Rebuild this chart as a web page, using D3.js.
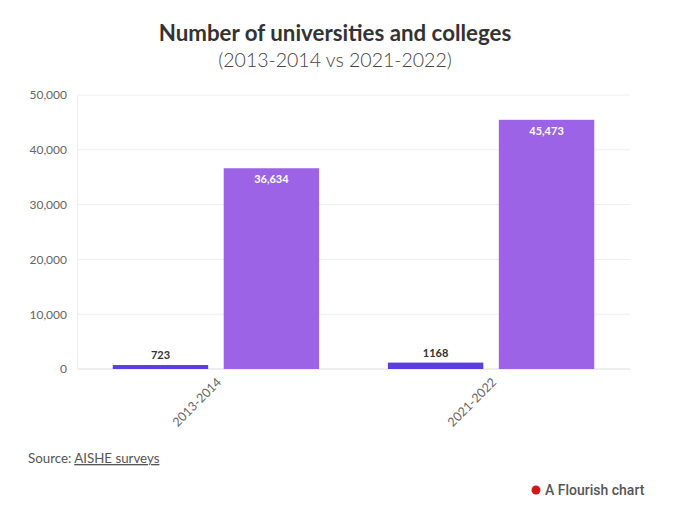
<!DOCTYPE html>
<html><head><meta charset="utf-8">
<script src="https://cdn.jsdelivr.net/npm/d3@7"></script>
<style>
body{margin:0;background:#fff;}
svg{display:block;}
</style></head>
<body>
<svg id="chart" width="680" height="518"></svg>
<script>
const categories = ["2013-2014", "2021-2022"];
const seriesNames = ["Universities", "Colleges"];
const universities = [723, 1168];
const colleges = [36634, 45473];
const yTicks = [0, 10000, 20000, 30000, 40000, 50000];
const universityLabels = ["723", "1168"];

const svg = d3.select("#chart");
const font = "Lato, 'Source Sans Pro', sans-serif";
const colors = ["#5b3fdc", "#9d63e6"];

const x0 = d3.scaleBand().domain(categories).range([77, 630]).paddingInner(0.25).paddingOuter(0.13);
const x1 = d3.scaleBand().domain(seriesNames).range([0, x0.bandwidth()]).paddingInner(0.14);
const y = d3.scaleLinear().domain([0, 50000]).range([369, 95]);

// title
svg.append("text").attr("x", 335).attr("y", 41).attr("text-anchor", "middle")
  .attr("font-family", font).attr("font-weight", 700).attr("font-size", 22.3).attr("fill", "#333")
  .text("Number of universities and colleges");
svg.append("text").attr("x", 335).attr("y", 67).attr("text-anchor", "middle")
  .attr("font-family", font).attr("font-weight", 300).attr("font-size", 19.5).attr("fill", "#444")
  .text("(2013-2014 vs 2021-2022)");

// grid
const g = svg.append("g");
g.selectAll("line.grid").data(yTicks).join("line")
  .attr("x1", 77).attr("x2", 630)
  .attr("y1", d => y(d)).attr("y2", d => y(d))
  .attr("stroke", d => d === 0 ? "#ddd" : "#eee").attr("stroke-width", 1);
g.append("line").attr("x1", 77.5).attr("x2", 77.5).attr("y1", y(50000)).attr("y2", y(0)).attr("stroke", "#eee");

const yAxis = d3.axisLeft(y).tickValues(yTicks).tickSize(0).tickPadding(0).tickFormat(d3.format(","));
const ya = svg.append("g").attr("transform", "translate(67,0)").call(yAxis);
ya.select(".domain").remove();
ya.selectAll("text").attr("font-family", font).attr("font-size", 12).attr("fill", "#666");

// bars
const data = categories.map((c, i) => ({cat: c, vals: [
  {s: seriesNames[0], v: universities[i], label: universityLabels[i]},
  {s: seriesNames[1], v: colleges[i], label: d3.format(",")(colleges[i])}
]}));

const groups = svg.selectAll("g.grp").data(data).join("g")
  .attr("transform", d => `translate(${x0(d.cat)},0)`);
groups.selectAll("rect").data(d => d.vals).join("rect")
  .attr("x", d => x1(d.s)).attr("width", x1.bandwidth())
  .attr("y", d => y(d.v)).attr("height", d => y(0) - y(d.v))
  .attr("fill", (d, i) => colors[i]);
groups.selectAll("text.lab").data(d => d.vals).join("text")
  .attr("class", "lab")
  .attr("x", d => x1(d.s) + x1.bandwidth() / 2)
  .attr("y", (d, i) => i === 0 ? y(d.v) - 6 : y(d.v) + 15)
  .attr("text-anchor", "middle")
  .attr("font-family", font).attr("font-weight", 700).attr("font-size", 11)
  .attr("fill", (d, i) => i === 0 ? "#333" : "#fff")
  .text(d => d.label);

// x axis labels
const xAxis = d3.axisBottom(x0).tickSize(0).tickPadding(0);
const xa = svg.append("g").attr("transform", "translate(0,380)").call(xAxis);
xa.select(".domain").remove();
xa.selectAll("text")
  .attr("font-family", font).attr("font-size", 12.5).attr("fill", "#666")
  .attr("text-anchor", "end").attr("dy", "0.35em")
  .attr("transform", "translate(3,0) rotate(-45)");

// footer
const src = svg.append("text").attr("x", 28).attr("y", 463)
  .attr("font-family", font).attr("font-size", 13.3).attr("fill", "#555");
src.append("tspan").text("Source: ");
src.append("tspan").attr("text-decoration", "underline").text("AISHE surveys");

svg.append("circle").attr("cx", 536).attr("cy", 490).attr("r", 4.5).attr("fill", "#d01818");
svg.append("text").attr("x", 545).attr("y", 495)
  .attr("font-family", "Roboto, Arial, sans-serif").attr("font-size", 14).attr("font-weight", 500).attr("fill", "#555")
  .text("A Flourish chart");
</script>
</body></html>
